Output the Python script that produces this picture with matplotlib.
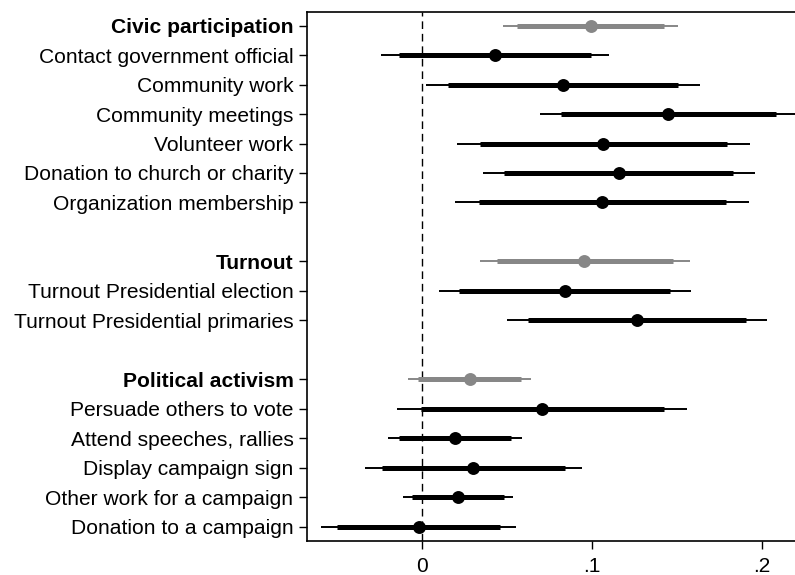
import numpy as np
import matplotlib
matplotlib.use('Agg')
import matplotlib.pyplot as plt

plt.rcParams['font.family'] = ['Liberation Sans', 'DejaVu Sans']

# ===== DATA =====
labels = ['Civic participation', 'Contact government official', 'Community work',
          'Community meetings', 'Volunteer work', 'Donation to church or charity',
          'Organization membership', '',
          'Turnout', 'Turnout Presidential election', 'Turnout Presidential primaries', '',
          'Political activism', 'Persuade others to vote', 'Attend speeches, rallies',
          'Display campaign sign', 'Other work for a campaign', 'Donation to a campaign']
is_group = [True, False, False, False, False, False, False, None,
            True, False, False, None,
            True, False, False, False, False, False]

est = [0.0996, 0.0433, 0.0833, 0.1449, 0.1068, 0.1161, 0.1063, np.nan,
       0.0957, 0.0841, 0.1265, np.nan,
       0.0284, 0.0710, 0.0196, 0.0304, 0.0215, -0.0016]
lo95 = [0.048, -0.0239, 0.0025, 0.0696, 0.0206, 0.0359, 0.0198, np.nan,
        0.0343, 0.0104, 0.0502, np.nan,
        -0.0079, -0.0147, -0.0196, -0.0334, -0.0112, -0.0592]
hi95 = [0.151, 0.1104, 0.1637, 0.221, 0.1931, 0.1963, 0.1925, np.nan,
        0.1578, 0.1582, 0.2029, np.nan,
        0.0641, 0.1562, 0.0588, 0.0945, 0.0539, 0.0555]
lo90 = [0.0562, -0.0134, 0.0153, 0.0818, 0.0343, 0.0486, 0.0337, np.nan,
        0.0441, 0.0221, 0.0624, np.nan,
        -0.002, -0.0006, -0.0131, -0.0232, -0.0059, -0.05]
hi90 = [0.1427, 0.0996, 0.151, 0.2082, 0.1794, 0.1833, 0.1788, np.nan,
        0.148, 0.146, 0.1908, np.nan,
        0.0582, 0.1427, 0.0525, 0.0843, 0.0484, 0.0461]

xticks = [0, 0.1, 0.2]
xticklabels = ['0', '.1', '.2']

# ===== PLOT =====
fig = plt.figure(figsize=(7.95, 5.75), dpi=100)
ax = fig.add_axes([307.3 / 795, 1 - 540.7 / 575, (795 - 307.3) / 795, (540.7 - 11.7) / 575])

ypos = np.arange(len(labels))
for i in ypos:
    if is_group[i] is None:
        continue
    c = '#878787' if is_group[i] else 'black'
    ax.plot([lo95[i], hi95[i]], [i, i], color=c, lw=1.4, solid_capstyle='butt', zorder=2)
    ax.plot([lo90[i], hi90[i]], [i, i], color=c, lw=3.6, solid_capstyle='butt', zorder=3)
    ax.plot(est[i], i, 'o', color=c, ms=9.3, mec='none', zorder=4)

ax.axvline(0, color='black', lw=1, ls=(0, (5.5, 3.5)), zorder=1)

ax.set_xlim(-0.0673, 0.2196)
ax.set_ylim(len(labels) - 0.53, -0.47)

ax.set_xticks(xticks)
ax.set_xticklabels(xticklabels, fontsize=15)

tick_y = [i for i in ypos if is_group[i] is not None]
ax.set_yticks(tick_y)
ax.set_yticklabels([labels[i] for i in tick_y], fontsize=15.1)
for t, i in zip(ax.get_yticklabels(), tick_y):
    if is_group[i]:
        t.set_fontweight('bold')

ax.tick_params(axis='y', direction='out', length=6, width=1, pad=4)
ax.tick_params(axis='x', direction='out', length=6, width=1, pad=6)
ax.spines['right'].set_visible(False)
for s in ax.spines.values():
    s.set_linewidth(1.2)

fig.savefig('out.png', dpi=100)
